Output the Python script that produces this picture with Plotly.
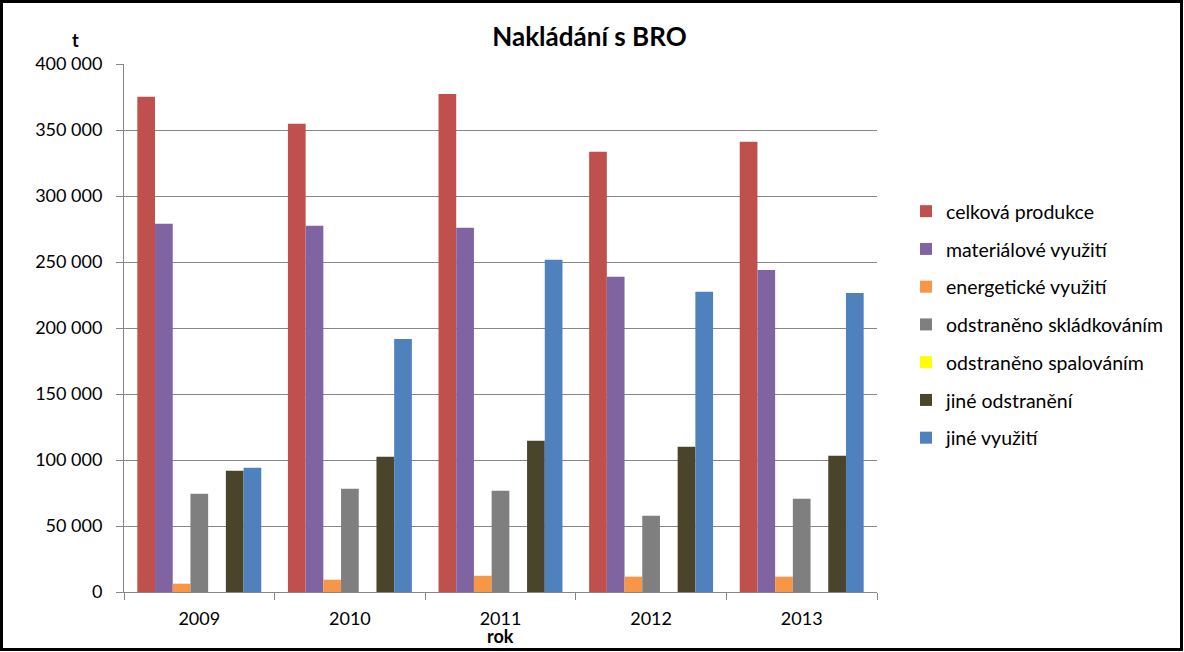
import plotly.graph_objects as go

years = ["2009", "2010", "2011", "2012", "2013"]
series_names = ["celková produkce", "materiálové využití", "energetické využití",
                "odstraněno skládkováním", "odstraněno spalováním", "jiné odstranění", "jiné využití"]
celkova_produkce = [375200, 354800, 377300, 333600, 341100]
materialove_vyuziti = [279000, 277500, 276000, 238900, 243900]
energeticke_vyuziti = [6300, 9300, 12300, 11600, 11600]
odstraneno_skladkovanim = [74500, 78200, 76700, 57800, 70700]
odstraneno_spalovanim = [0, 0, 0, 0, 0]
jine_odstraneni = [91900, 102500, 114600, 110000, 103300]
jine_vyuziti = [94200, 191700, 251700, 227500, 226500]
y_ticks = [0, 50000, 100000, 150000, 200000, 250000, 300000, 350000, 400000]

values = [celkova_produkce, materialove_vyuziti, energeticke_vyuziti,
          odstraneno_skladkovanim, odstraneno_spalovanim, jine_odstraneni, jine_vyuziti]
colors = ["#C0504D", "#8064A2", "#F79646", "#7F7F7F", "#FFFF00", "#4A452A", "#4F81BD"]

FONT = "Lato"
fig = go.Figure()
for i, (name, vals, col) in enumerate(zip(series_names, values, colors)):
    fig.add_trace(go.Bar(x=years, y=vals, name=name, marker_color=col,
                         marker_line_width=0, legendgroup=str(i)))

L, R, T, B = 124, 877, 64, 592
W, H = 1184, 652
pw, ph = R - L, B - T

def px(x):
    return (x - L) / pw

def py(y):
    return (B - y) / ph

fig.update_layout(
    width=W, height=H,
    margin=dict(l=L, r=W - R, t=T, b=H - B, pad=0),
    paper_bgcolor="white", plot_bgcolor="white",
    barmode="group", bargap=0.177, bargroupgap=0,
    separators=", ",
    font=dict(family=FONT, size=18, color="black"),
    title=dict(text="<b>Nakládání s BRO</b>", x=589.5 / W, xanchor="center",
               y=1 - 37 / H, yanchor="middle", xref="container", yref="container",
               font=dict(family=FONT, size=26, color="black")),
    legend=dict(x=px(906), xanchor="left", y=py(192), yanchor="top",
                font=dict(family=FONT, size=19.5), tracegroupgap=9.4,
                bgcolor="rgba(0,0,0,0)", itemwidth=30),
    showlegend=True,
)
fig.update_yaxes(range=[0, 400000], tickvals=y_ticks, tickformat=",d",
                 showgrid=True, gridcolor="#868686", gridwidth=1,
                 showline=True, linecolor="#868686", linewidth=1,
                 ticks="outside", ticklen=7, tickcolor="#868686",
                 ticklabelstandoff=10, zeroline=False,
                 tickfont=dict(family=FONT, size=18))
fig.update_xaxes(showline=True, linecolor="#868686", linewidth=1,
                 ticks="outside", ticklen=7, tickcolor="#868686", tickson="boundaries",
                 ticklabelstandoff=10, tickfont=dict(family=FONT, size=18))

fig.add_annotation(text="<b>t</b>", x=px(75), y=py(40), xref="paper", yref="paper",
                   xanchor="center", yanchor="middle",
                   showarrow=False, font=dict(family=FONT, size=18))
fig.add_annotation(text="<b>rok</b>", x=px(500), y=py(636), xref="paper", yref="paper",
                   xanchor="center", yanchor="middle",
                   showarrow=False, font=dict(family=FONT, size=18))
fig.add_shape(type="rect", xref="paper", yref="paper",
              x0=px(1.5), x1=px(1181.5), y0=py(649.5), y1=py(1.5),
              line=dict(color="black", width=3), fillcolor="rgba(0,0,0,0)", layer="above")

fig.write_html("out.html")
